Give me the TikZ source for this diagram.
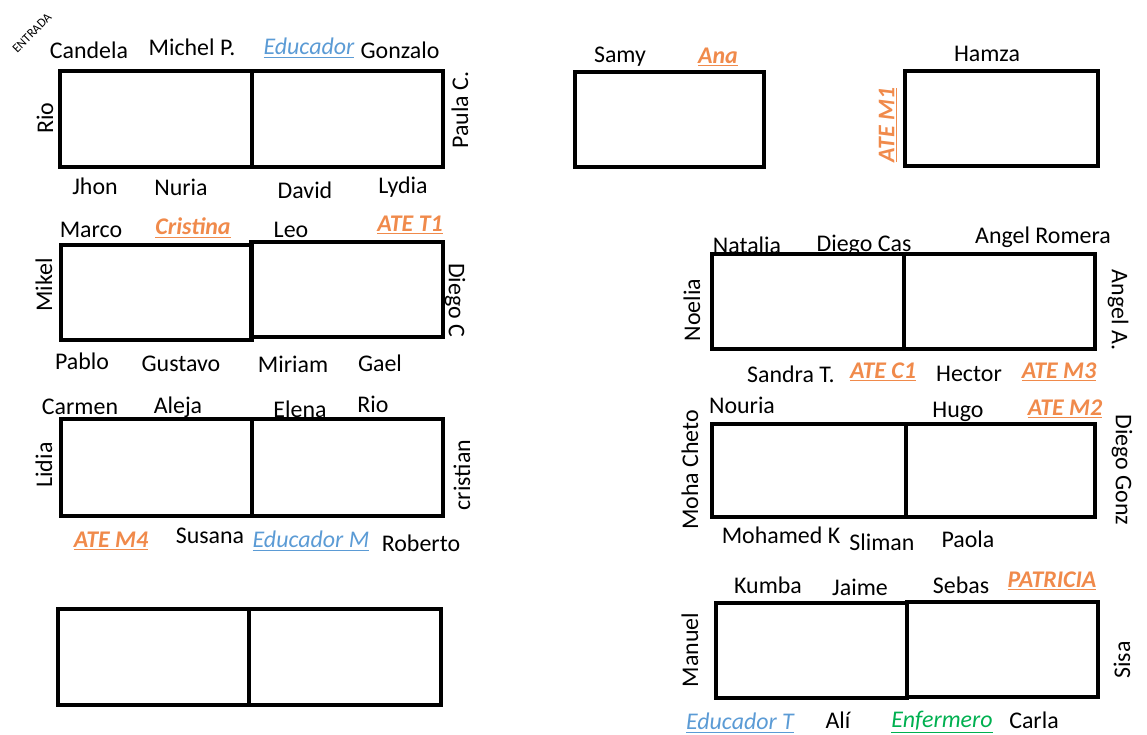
\documentclass[tikz,border=0pt]{standalone}
\usepackage{fontspec}
\setmainfont{Carlito}
\usepackage{xcolor}
\definecolor{ateorange}{HTML}{F08A4B}
\definecolor{edublue}{HTML}{5B9BD5}
\definecolor{enfgreen}{HTML}{00B050}

\tikzset{
  mesa/.style={draw,line width=3pt},
  alumno/.style={font=\fontsize{17}{20}\selectfont,inner sep=0pt},
  ate/.style={alumno,text=ateorange,font=\fontsize{17}{20}\selectfont\bfseries\itshape},
  edu/.style={alumno,text=edublue,font=\fontsize{17}{20}\selectfont\itshape},
  enf/.style={alumno,text=enfgreen,font=\fontsize{17}{20}\selectfont\itshape},
}

\begin{document}
\begin{tikzpicture}[x=0.025cm,y=-0.025cm]
  \useasboundingbox (0,0) rectangle (1147,735);

  % mesas izquierda
  \draw[mesa] (60,71) rectangle (443,167);
  \draw[mesa] (252,71) -- (252,167);
  \draw[mesa] (61,245) rectangle (252,340);
  \draw[mesa] (251,242) rectangle (443,337);
  \draw[mesa] (61,419) rectangle (443,516);
  \draw[mesa] (252,419) -- (252,516);
  \draw[mesa] (58,609) rectangle (441,705);
  \draw[mesa] (249,609) -- (249,705);

  % mesas derecha
  \draw[mesa] (575,72) rectangle (764,167);
  \draw[mesa] (905,71) rectangle (1098,166);
  \draw[mesa] (712,254) rectangle (1095,349);
  \draw[mesa] (904,254) -- (904,349);
  \draw[mesa] (712,424) rectangle (1095,517);
  \draw[mesa] (906,424) -- (906,517);
  \draw[mesa] (716,603) rectangle (907,698);
  \draw[mesa] (907,602) rectangle (1098,697);

  \node[font=\fontsize{9}{10}\selectfont,rotate=45] (entrada) at (32,33) {ENTRADA};

  % mesa 1
  \node[alumno] (candela) at (89,50) {Candela};
  \node[alumno] (michel) at (192,47) {Michel P.};
  \node[edu] (educador) at (309,48) {\underline{Educador}};
  \node[alumno] (gonzalo) at (400,50) {Gonzalo};
  \node[alumno,rotate=90] (rio) at (45,118) {Rio};
  \node[alumno,rotate=90] (paula) at (460,110) {Paula C.};
  \node[alumno] (jhon) at (95,186) {Jhon};
  \node[alumno] (nuria) at (181,187) {Nuria};
  \node[alumno] (david) at (305,190) {David};
  \node[alumno] (lydia) at (403,187) {Lydia};

  % mesa 2
  \node[alumno] (marco) at (91,230) {Marco};
  \node[ate] (cristina) at (193,228) {\underline{Cristina}};
  \node[alumno] (leo) at (291,230) {Leo};
  \node[ate] (atet1) at (410,225) {\underline{ATE T1}};
  \node[alumno,rotate=90] (mikel) at (44,285) {Mikel};
  \node[alumno,rotate=-90] (diegoc) at (455,300) {Diego C};
  \node[alumno] (pablo) at (82,361) {Pablo};
  \node[alumno] (gustavo) at (181,364) {Gustavo};
  \node[alumno] (miriam) at (293,364) {Miriam};
  \node[alumno] (gael) at (380,363) {Gael};

  % mesa 3
  \node[alumno] (carmen) at (80,407) {Carmen};
  \node[alumno] (aleja) at (178,407) {Aleja};
  \node[alumno] (elena) at (300,409) {Elena};
  \node[alumno] (rio2) at (373,404) {Rio};
  \node[alumno,rotate=90] (lidia) at (44,465) {Lidia};
  \node[alumno,rotate=90] (cristian) at (462,475) {cristian};
  \node[ate] (atem4) at (111,541) {\underline{ATE M4}};
  \node[alumno] (susana) at (210,536) {Susana};
  \node[edu] (educadorm) at (311,541) {\underline{Educador M}};
  \node[alumno] (roberto) at (421,543) {Roberto};

  % mesas arriba derecha
  \node[alumno] (samy) at (620,57) {Samy};
  \node[ate] (ana) at (718,57) {\underline{Ana}};
  \node[alumno] (hamza) at (987,54) {Hamza};
  \node[ate,rotate=90] (atem1) at (888,125) {\underline{ATE M1}};

  % mesa 5
  \node[alumno] (natalia) at (747,245) {Natalia};
  \node[alumno] (diegocas) at (864,245) {Diego Cas};
  \node[alumno] (angelr) at (1043,237) {Angel Romera};
  \node[alumno,rotate=90] (noelia) at (692,310) {Noelia};
  \node[alumno,rotate=-90] (angela) at (1118,310) {Angel A.};
  \node[alumno] (sandra) at (791,374) {Sandra T.};
  \node[ate] (atec1) at (883,372) {\underline{ATE C1}};
  \node[alumno] (hector) at (969,374) {Hector};
  \node[ate] (atem3) at (1059,372) {\underline{ATE M3}};

  % mesa 6
  \node[alumno] (nouria) at (742,405) {Nouria};
  \node[alumno] (hugo) at (958,412) {Hugo};
  \node[ate] (atem2) at (1065,409) {\underline{ATE M2}};
  \node[alumno,rotate=90] (moha) at (690,470) {Moha Cheto};
  \node[alumno,rotate=-90] (diegog) at (1122,470) {Diego Gonz};
  \node[alumno] (mohamed) at (781,535) {Mohamed K};
  \node[alumno] (sliman) at (882,542) {Sliman};
  \node[alumno] (paola) at (968,539) {Paola};

  % mesa 7
  \node[alumno] (kumba) at (768,585) {Kumba};
  \node[alumno] (jaime) at (860,587) {Jaime};
  \node[alumno] (sebas) at (961,585) {Sebas};
  \node[ate] (patricia) at (1052,581) {\underline{PATRICIA}};
  \node[alumno,rotate=90] (manuel) at (690,650) {Manuel};
  \node[alumno,rotate=90] (sisa) at (1122,660) {Sisa};
  \node[edu] (educadort) at (740,723) {\underline{Educador T}};
  \node[alumno] (ali) at (838,720) {Alí};
  \node[enf] (enfermero) at (942,722) {\underline{Enfermero}};
  \node[alumno] (carla) at (1034,720) {Carla};
\end{tikzpicture}
\end{document}
